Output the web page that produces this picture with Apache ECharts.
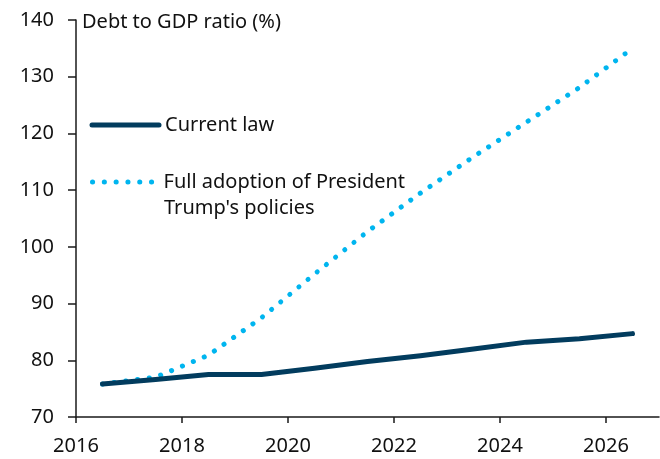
<!DOCTYPE html>
<html>
<head>
<meta charset="utf-8">
<script src="https://cdn.jsdelivr.net/npm/echarts@6/dist/echarts.min.js"></script>
<style>
  html, body { margin: 0; padding: 0; background: #fff; }
  #chart { width: 660px; height: 459px; }
</style>
</head>
<body>
<div id="chart"></div>
<script>
// Fiscal-year points, plotted at mid-year
const years = [2016.5, 2017.5, 2018.5, 2019.5, 2020.5, 2021.5, 2022.5, 2023.5, 2024.5, 2025.5, 2026.5];
const currentLaw = [75.8, 76.6, 77.5, 77.5, 78.6, 79.8, 80.8, 82.0, 83.2, 83.8, 84.7];
const fullAdoption = [75.8, 77.0, 80.9, 87.5, 95.2, 102.7, 109.5, 115.9, 122.0, 128.1, 135.0];
const xTickLabels = [2016, 2018, 2020, 2022, 2024, 2026];
const yTickLabels = [70, 80, 90, 100, 110, 120, 130, 140];

const FONT = 'Noto Sans';
const AXIS_COLOR = '#1a1a1a';
const TEXT_COLOR = '#111';
const NAVY = '#023c5e';
const CYAN = '#00b5ef';
const DOTS = [0.1, 11.7];

const pairs = (xs, ys) => xs.map((x, i) => [x, ys[i]]);

const chart = echarts.init(document.getElementById('chart'), null, { renderer: 'canvas' });

chart.setOption({
  animation: false,
  backgroundColor: '#fff',
  textStyle: { fontFamily: FONT },
  grid: { left: 76, right: 1, top: 20, bottom: 42, containLabel: false },
  xAxis: {
    type: 'value',
    min: 2016,
    max: 2027,
    axisLine: { show: true, lineStyle: { color: AXIS_COLOR, width: 1.5 } },
    axisTick: { show: true, length: 6, customValues: xTickLabels, lineStyle: { color: AXIS_COLOR, width: 1.5 } },
    axisLabel: {
      customValues: xTickLabels,
      formatter: v => String(v),
      color: TEXT_COLOR, fontSize: 20, fontFamily: FONT, margin: 19
    },
    splitLine: { show: false }
  },
  yAxis: {
    type: 'value',
    min: yTickLabels[0],
    max: yTickLabels[yTickLabels.length - 1],
    interval: 10,
    axisLine: { show: true, lineStyle: { color: AXIS_COLOR, width: 1.5 } },
    axisTick: { show: true, length: 8, lineStyle: { color: AXIS_COLOR, width: 1.5 } },
    axisLabel: { color: TEXT_COLOR, fontSize: 20, fontFamily: FONT, margin: 22 },
    splitLine: { show: false }
  },
  legend: [
    {
      data: ['Current law'],
      left: 89.5, top: 115, padding: 0,
      itemWidth: 67, itemHeight: 14,
      itemStyle: { opacity: 0 },
      lineStyle: { color: NAVY, width: 5, cap: 'round' },
      textStyle: { fontSize: 20, color: TEXT_COLOR, fontFamily: FONT, padding: [0, 0, 0, 1] }
    },
    {
      data: ["Full adoption of President Trump's policies"],
      left: 90, top: 172, padding: 0,
      itemWidth: 60, itemHeight: 14,
      itemStyle: { opacity: 0 },
      lineStyle: { color: CYAN, width: 5, type: DOTS, cap: 'round' },
      // first line of the label; the second line is set below it as a graphic
      formatter: () => 'Full adoption of President',
      textStyle: { fontSize: 20, color: TEXT_COLOR, fontFamily: FONT, padding: [0, 0, 0, 6] }
    }
  ],
  graphic: [
    {
      type: 'text', x: 82, y: 22,
      style: { text: 'Debt to GDP ratio (%)', fontSize: 20, fontFamily: FONT, fill: TEXT_COLOR, verticalAlign: 'middle' }
    },
    {
      type: 'text', x: 164, y: 208,
      style: { text: "Trump's policies", fontSize: 20, fontFamily: FONT, fill: TEXT_COLOR, verticalAlign: 'middle' }
    }
  ],
  series: [
    {
      name: 'Current law',
      type: 'line',
      data: pairs(years, currentLaw),
      symbol: 'none',
      lineStyle: { color: NAVY, width: 5, cap: 'round', join: 'round' },
      itemStyle: { color: NAVY },
      z: 3
    },
    {
      name: "Full adoption of President Trump's policies",
      type: 'line',
      data: pairs(years, fullAdoption),
      symbol: 'none',
      lineStyle: { color: CYAN, width: 5, type: DOTS, cap: 'round' },
      itemStyle: { color: CYAN },
      z: 2
    }
  ]
});
</script>
</body>
</html>
